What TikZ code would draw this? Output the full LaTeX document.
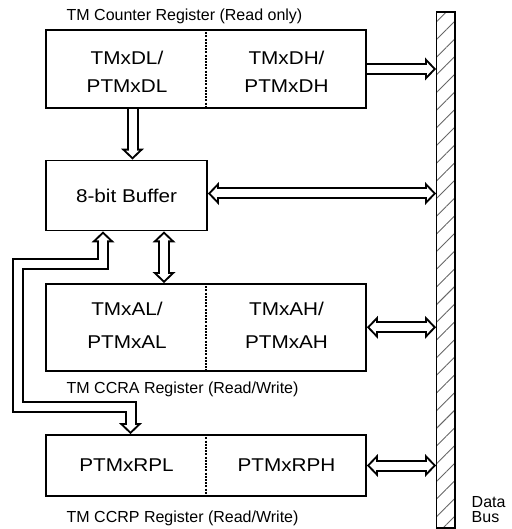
\documentclass[tikz,border=0pt]{standalone}
\usepackage{fontspec}
\setmainfont{Liberation Sans}
\newfontfamily\regfont[FakeStretch=1.12]{Liberation Sans}
\usetikzlibrary{positioning, arrows.meta, patterns.meta, backgrounds}

\begin{document}
\begin{tikzpicture}[
  x=1pt, y=-1pt,
  every node/.style={inner sep=0pt},
  reg/.style    ={draw, line width=1.8pt, minimum width=320pt},
  regtxt/.style ={font=\regfont\fontsize{18.5}{27.4}\selectfont, align=center},
  buffer/.style ={draw, line width=1.8pt, minimum width=161pt, minimum height=70pt,
                  font=\regfont\fontsize{18.5}{22}\selectfont},
  lbl/.style    ={font=\fontsize{16}{19}\selectfont, anchor=base west},
  divider/.style={line width=1.5pt, dash pattern=on 2pt off 1.2pt},
  databus/.style={draw, line width=1.8pt, minimum width=18.5pt, minimum height=516pt,
                  pattern={Lines[angle=45, distance=12.5pt, line width=0.9pt]},
                  pattern color=black!60},
  fat/.style    ={draw=black, line width=12pt,
                  -{Triangle[length=11pt, width=23pt, line width=0pt]},
                  postaction={draw=white, color=white, line width=8pt,
                    -{Triangle[length=6.2pt, width=13pt, line width=0pt]},
                    shorten >=2.8pt}},
  fatboth/.style={draw=black, line width=12pt,
                  {Triangle[length=11pt, width=23pt, line width=0pt]}-{Triangle[length=11pt, width=23pt, line width=0pt]},
                  postaction={draw=white, color=white, line width=8pt,
                    {Triangle[length=6.2pt, width=13pt, line width=0pt]}-{Triangle[length=6.2pt, width=13pt, line width=0pt]},
                    shorten >=2.8pt, shorten <=2.8pt}},
]

%% ---- y layout (px of the 511x529 sheet, y downward) ----
%%   12 .. 528  data bus  (x 437 .. 455)
%%   30 .. 108  counter register
%%  161 .. 231  8-bit buffer
%%  284 .. 371  CCRA register
%%  435 .. 496  CCRP register
\useasboundingbox (0,0) rectangle (511,529);

%% ---- Data bus ----
\node[databus] (bus) at (445.75,270) {};
\node[lbl, anchor=south west, align=left, font=\fontsize{16}{14.5}\selectfont]
  (buslbl) at (471.5,522.7) {Data\\Bus};

%% ---- Counter register ----
\node[reg, minimum height=78pt] (cnt) at (206,69) {};
\node[regtxt] (cntL) at (127,71.7)   {TMxDL/\\PTMxDL};
\node[regtxt] (cntH) at (286.5,71.7) {TMxDH/\\PTMxDH};
\draw[divider] (cnt.north) -- (cnt.south);
\node[lbl] (cntlbl) at (66.5,20.7) {TM Counter Register (Read only)};

%% ---- Buffer ----
\node[buffer] (buf) at (126.5,195.5) {8-bit Buffer};

%% ---- CCRA register ----
\node[reg, minimum height=86.7pt] (ccra) at (206,327.3) {};
\node[regtxt] (ccraL) at (127,325)   {TMxAL/\\[6pt]PTMxAL};
\node[regtxt] (ccraH) at (286.5,325) {TMxAH/\\[6pt]PTMxAH};
\draw[divider] (ccra.north) -- (ccra.south);
\node[lbl] (ccralbl) at (66.5,393.3) {TM CCRA Register (Read/Write)};

%% ---- CCRP register ----
\node[reg, minimum height=61pt] (ccrp) at (206,465.5) {};
\node[regtxt] (ccrpL) at (126.5,465.5) {PTMxRPL};
\node[regtxt] (ccrpH) at (286.5,465.5) {PTMxRPH};
\draw[divider] (ccrp.north) -- (ccrp.south);
\node[lbl] (ccrplbl) at (66.5,522.7) {TM CCRP Register (Read/Write)};

%% corners of the buffer -> CCRP loop
\coordinate (loopA) at (17.5,263.5);
\coordinate (loopB) at (17.5,406.5);

%% ---- hollow arrows, behind the boxes ----
\begin{pgfonlayer}{background}
\draw[fat] (cnt.east) -- (cnt.east -| bus.west);
\draw[fat] ([xshift=6pt]buf.north |- cnt.south) -- ([xshift=6pt]buf.north);
\draw[fatboth] ([yshift=2pt]buf.east) -- ([yshift=2pt]buf.east -| bus.west);
\draw[fatboth] ([xshift=37.5pt]buf.south) -- ([xshift=37.5pt]buf.south |- ccra.north);
\draw[fatboth] ([xshift=-23.5pt]buf.south) |- (loopA) -- (loopB)
  -| ([xshift=-75.5pt]ccrp.north);
\draw[fatboth] (ccra.east) -- (ccra.east -| bus.west);
\draw[fatboth] (ccrp.east) -- (ccrp.east -| bus.west);
\end{pgfonlayer}

\end{tikzpicture}
\end{document}
